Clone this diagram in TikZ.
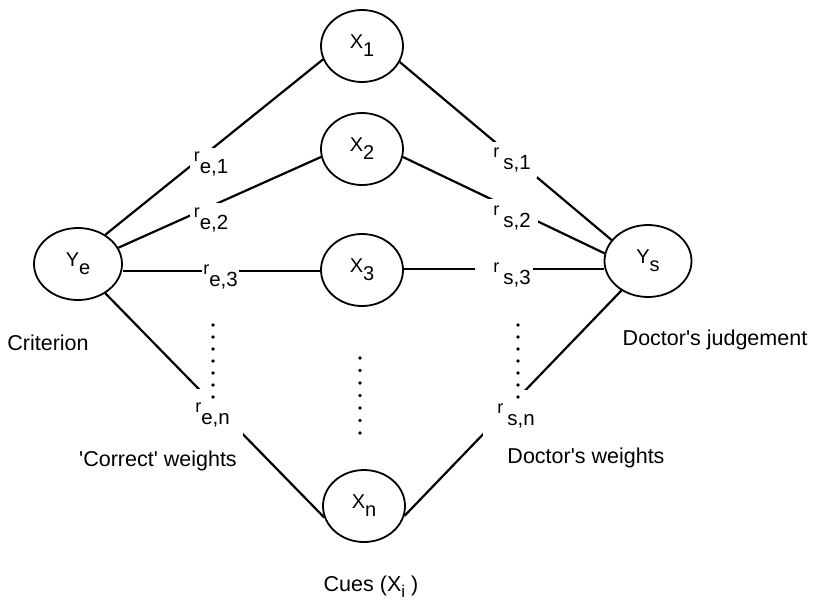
\documentclass[tikz,border=0pt]{standalone}
\usepackage{fontspec}
\setmainfont{Liberation Sans}
\usetikzlibrary{shapes.geometric}
\newcommand{\lowr}[2]{{\fontsize{18}{18}\selectfont r}\kern#2\raisebox{-12pt}{#1}}
\newcommand{\lowsub}[2]{#1\raisebox{-8pt}{#2}}
\begin{document}
\begin{tikzpicture}[x=1pt,y=-1pt,
  every node/.style={font=\fontsize{20.5}{24}\selectfont},
  cue/.style={draw, ellipse, line width=1.8pt, minimum width=82pt, minimum height=72pt, inner sep=0pt, font=\fontsize{20}{22}\selectfont},
  wlab/.style={fill=white, inner sep=4pt},
  link/.style={line width=2.2pt},
  dotm/.style={fill=black},
  caption/.style={font=\fontsize{21.5}{25}\selectfont, inner sep=0pt, anchor=base}]
\useasboundingbox (0,0) rectangle (814,600);

\node[cue] (X1) at (362,46) {\lowsub{X}{1}};
\node[cue] (X2) at (362,149) {\lowsub{X}{2}};
\node[cue] (X3) at (362,270) {\lowsub{X}{3}};
\node[cue] (Xn) at (364,506) {\lowsub{X}{n}};
\node[cue, minimum width=88pt] (Ye) at (78,264) {\lowsub{Y}{e}};
\node[cue, minimum width=87pt] (Ys) at (648,261) {\lowsub{Y}{s}};

\coordinate (h3l) at (0,271);
\coordinate (h3r) at (0,269);

\draw[link] (Ye.47) -- (X1.199);
\draw[link] (Ye.22) -- (X2.191);
\draw[link] (Ye.east |- h3l) -- (X3.west |- h3l);
\draw[link] (Ye.-47) -- (Xn.196);
\draw[link] (X1.337) -- (Ys.150);
\draw[link] (X2.349) -- (Ys.170);
\draw[link] (X3.east |- h3r) -- (Ys.west |- h3r);
\draw[link] (Xn.346) -- (Ys.228);

\node[wlab] (re1) at (211,164) {\lowr{e,1}{0pt}};
\node[wlab] (re2) at (211,219.5) {\lowr{e,2}{0pt}};
\node[wlab, inner xsep=1pt] (re3) at (220.5,276.5) {\lowr{e,3}{0pt}\hspace{18pt}};
\node[wlab, inner sep=13pt] (ren) at (212.5,414.5) {\lowr{e,n}{0pt}};
\node[wlab, inner sep=6pt] (rs1) at (512,160) {\lowr{s,1}{4pt}};
\node[wlab, inner sep=7pt] (rs2) at (512,218) {\lowr{s,2}{4pt}};
\node[wlab, inner xsep=2pt] (rs3) at (504,275) {\hspace{16pt}\lowr{s,3}{4pt}};
\node[wlab, inner sep=14pt] (rsn) at (516,416) {\lowr{s,n}{4pt}};

\foreach \i in {0,...,6} {
  \fill[dotm] (213,325+12*\i) circle (1.8pt);
  \fill[dotm] (518,325+12*\i) circle (1.8pt);
  \fill[dotm] (360,358+12.5*\i) circle (1.8pt);
}

\node[caption] (crit) at (48,350) {Criterion};
\node[caption] (cw) at (158,466) {\textquotesingle Correct\textquotesingle{} weights};
\node[caption] (dw) at (586,463) {Doctor\textquotesingle s weights};
\node[caption] (dj) at (715,345) {Doctor\textquotesingle s judgement};
\node[caption] (cues) at (371,591) {Cues (X\raisebox{-6pt}{\fontsize{17}{17}\selectfont i} )};
\end{tikzpicture}
\end{document}
